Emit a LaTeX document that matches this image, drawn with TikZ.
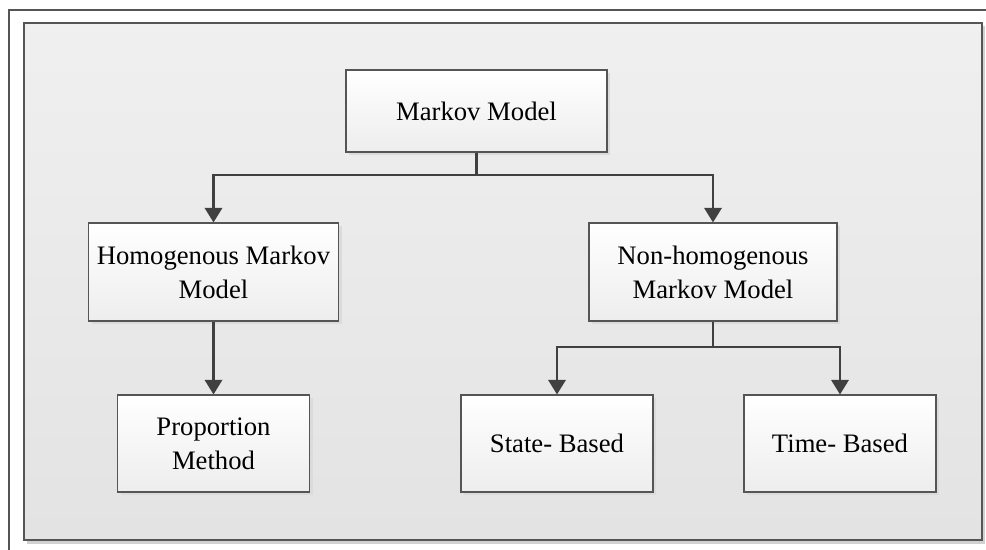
\documentclass[tikz,border=0pt]{standalone}
\usepackage{fontspec}
\setmainfont{Liberation Serif}
\usetikzlibrary{arrows.meta,shadows,calc}
\definecolor{linegray}{HTML}{404040}
\definecolor{framegray}{HTML}{555555}
\tikzset{
  box/.style={draw=framegray, line width=0.8pt, top color=white, bottom color=black!7,
    align=center, inner sep=2pt, font=\fontsize{20}{25.5}\selectfont,
    drop shadow={shadow xshift=2.5pt, shadow yshift=-2.5pt, fill=black!14, opacity=1}},
  conn/.style={draw=linegray, line width=2pt,
    -{Triangle[length=11pt,width=13pt]}},
  connplain/.style={draw=linegray, line width=2pt}
}
\begin{document}
\begin{tikzpicture}[x=0.75pt, y=-0.75pt]
\useasboundingbox (0,0) rectangle (986,550);
\begin{scope}
\clip (0,0) rectangle (986,550);
% outer frame
\fill[white] (0,0) rectangle (986,550);
\draw[framegray, line width=1.2pt] (9,10) rectangle (1000,570);
% inner panel with shadow
\fill[black!18] (27,26) rectangle (985,544);
\shade[top color=black!6, bottom color=black!11] (24,23) rectangle (982,540);
\draw[framegray, line width=1.2pt] (24,23) rectangle (982,540);
\end{scope}

% boxes
\node[box, minimum width=261*0.75pt, minimum height=82*0.75pt] (mm) at (476.5,111) {Markov Model};
\node[box, minimum width=250*0.75pt, minimum height=98*0.75pt] (hm) at (213.5,272) {Homogenous Markov\\Model};
\node[box, minimum width=248*0.75pt, minimum height=98*0.75pt] (nh) at (713,272) {Non-homogenous\\Markov Model};
\node[box, minimum width=192*0.75pt, minimum height=97*0.75pt] (pm) at (213.5,443.5) {Proportion\\Method};
\node[box, minimum width=192*0.75pt, minimum height=97*0.75pt] (sb) at (557,443.5) {State- Based};
\node[box, minimum width=192*0.75pt, minimum height=97*0.75pt] (tb) at (840,443.5) {Time- Based};

% bus levels
\coordinate (busA) at (0,175);
\coordinate (busB) at (0,347);

% connectors
\draw[connplain] (mm.south) -- (mm.south |- busA);
\draw[conn] (mm.south |- busA) -| (hm.north);
\draw[conn] (mm.south |- busA) -| (nh.north);
\draw[conn] (hm.south) -- (pm.north);
\draw[connplain] (nh.south) -- (nh.south |- busB);
\draw[conn] (nh.south |- busB) -| (sb.north);
\draw[conn] (nh.south |- busB) -| (tb.north);
\end{tikzpicture}
\end{document}
